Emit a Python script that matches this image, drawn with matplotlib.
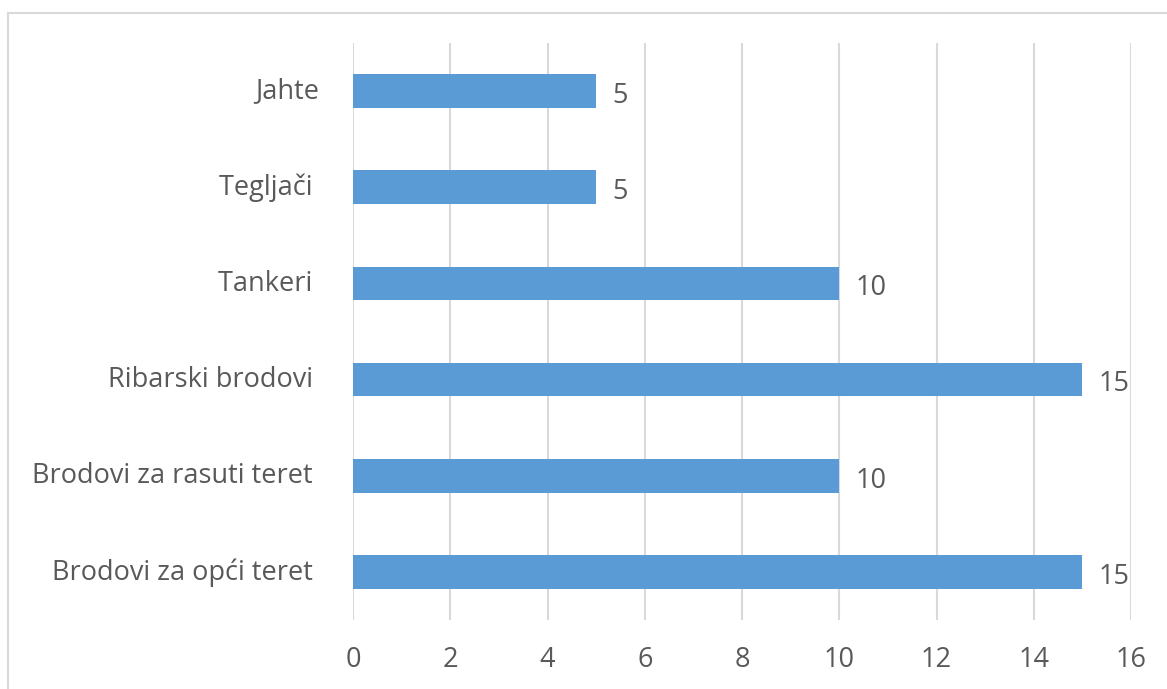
import matplotlib.pyplot as plt
import matplotlib.transforms as mtransforms
from matplotlib.patches import Rectangle

# Data (top to bottom as shown in the chart)
categories = ['Jahte', 'Tegljači ', 'Tankeri ', 'Ribarski brodovi ',
              'Brodovi za rasuti teret ', 'Brodovi za opći teret ']
values = [5, 5, 10, 15, 10, 15]
x_ticks = [0, 2, 4, 6, 8, 10, 12, 14, 16]

bar_color = '#5B9BD5'
text_color = '#595959'
grid_color = '#D9D9D9'

plt.rcParams['font.family'] = ['Open Sans', 'DejaVu Sans']

fig = plt.figure(figsize=(11.67, 6.89), dpi=100)
ax = fig.add_axes([353 / 1167, 1 - 620 / 689, (1131 - 353) / 1167, (620 - 43) / 689])

# Outer chart border (only top and left visible in the crop)
fig.patches.append(Rectangle((8 / 1167, -0.1), 1.2, 1 - 13 / 689 + 0.1,
                             transform=fig.transFigure, fill=False,
                             edgecolor='#D9D9D9', linewidth=1.5))

y_pos = list(range(len(categories)))
bars = ax.barh(y_pos, values, height=0.35, color=bar_color, zorder=3)

ax.set_ylim(len(categories) - 0.5, -0.5)
ax.set_xlim(0, 16)
ax.set_xticks(x_ticks)
ax.set_yticks(y_pos)
ax.set_yticklabels(categories, fontsize=19.8)

# Value labels
for b, v in zip(bars, values):
    ax.text(b.get_width() + 0.33, b.get_y() + b.get_height() / 2 + 0.05, str(v),
            va='center', ha='left', fontsize=19.5, color=text_color)

ax.grid(axis='x', color=grid_color, linewidth=1.5, zorder=0)
for s in ax.spines.values():
    s.set_visible(False)
ax.tick_params(axis='both', length=0, labelsize=19.5, labelcolor=text_color)
ax.tick_params(axis='x', pad=19)
ax.tick_params(axis='y', pad=24)

# nudge category labels up a bit
shift = mtransforms.ScaledTranslation(0, 3 / 100, fig.dpi_scale_trans)
for lbl in ax.get_yticklabels():
    lbl.set_transform(lbl.get_transform() + shift)

fig.savefig('out.png', dpi=100)
